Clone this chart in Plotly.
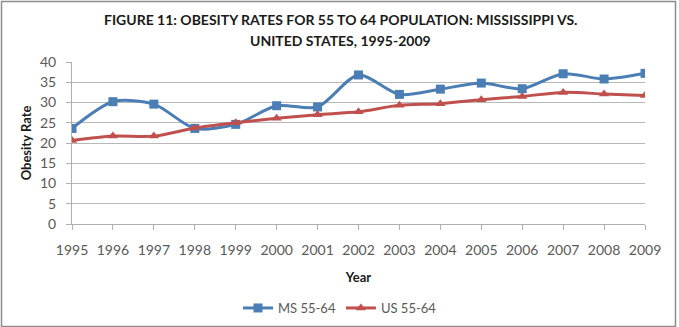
import plotly.graph_objects as go

# Obesity rates (%) for the 55-64 age group
years = [1995, 1996, 1997, 1998, 1999, 2000, 2001, 2002,
         2003, 2004, 2005, 2006, 2007, 2008, 2009]
ms_rates = [23.6, 30.2, 29.6, 23.6, 24.6, 29.2, 28.9, 36.8,
            32.0, 33.3, 34.8, 33.4, 37.1, 35.8, 37.2]
us_rates = [20.6, 21.7, 21.7, 23.7, 25.0, 26.1, 27.0, 27.7,
            29.3, 29.7, 30.7, 31.5, 32.5, 32.1, 31.7]
y_ticks = [0, 5, 10, 15, 20, 25, 30, 35, 40]
title_lines = ["FIGURE 11: OBESITY RATES FOR 55 TO 64 POPULATION: MISSISSIPPI VS.",
               "UNITED STATES, 1995-2009"]

FONT = "Century Gothic, Lato, sans-serif"
BLUE = "#4a7eb4"
RED = "#c0504d"
TEXT = "#595959"

W, H = 679, 327
ML, MR, MT, MB = 72, 34, 62, 103
PW, PH = W - ML - MR, H - MT - MB

fig = go.Figure()
fig.add_trace(go.Scatter(
    x=years, y=ms_rates, name="MS 55-64", mode="lines+markers",
    line=dict(color=BLUE, width=3, shape="spline", smoothing=0.8),
    marker=dict(symbol="square", size=9, color=BLUE),
))
fig.add_trace(go.Scatter(
    x=years, y=us_rates, name="US 55-64", mode="lines+markers",
    line=dict(color=RED, width=3, shape="spline", smoothing=0.8),
    marker=dict(symbol="triangle-up", size=9, color=RED),
))


def px_x(p):
    return (p - ML) / PW


def px_y(p):
    return (H - MB - p) / PH


# two-line bold heading, centred on the whole figure
annotations = [
    dict(text=f"<b>{line}</b>", xref="paper", yref="paper",
         x=px_x(340), y=px_y(cy), xanchor="center", yanchor="middle",
         showarrow=False, font=dict(family=FONT, size=14, color="#1a1a1a"))
    for line, cy in zip(title_lines, [20, 40])
]

fig.update_layout(
    width=W, height=H,
    margin=dict(l=ML, r=MR, t=MT, b=MB, autoexpand=False),
    paper_bgcolor="white", plot_bgcolor="white",
    font=dict(family=FONT, color=TEXT),
    annotations=annotations,
    xaxis=dict(
        range=[1995, 2009], tickmode="array", tickvals=years,
        ticktext=[str(y) for y in years],
        showgrid=False, showline=True, linecolor="#b0b0b0", linewidth=1,
        ticks="outside", ticklen=5, tickcolor="#b0b0b0",
        ticklabelstandoff=8,
        tickfont=dict(size=14, color=TEXT),
        title=dict(text="<b>Year</b>", font=dict(size=13, color="#1a1a1a"), standoff=16),
        zeroline=False, automargin=False,
    ),
    yaxis=dict(
        range=[0, 40], tickvals=y_ticks,
        showgrid=True, gridcolor="#b8b8b8", gridwidth=1,
        showline=True, linecolor="#b0b0b0", linewidth=1,
        ticks="outside", ticklen=5, tickcolor="#b0b0b0",
        ticklabelstandoff=7,
        tickfont=dict(size=14, color=TEXT),
        title=dict(text="<b>Obesity Rate</b>", font=dict(size=13, color="#1a1a1a"), standoff=5),
        zeroline=False, automargin=False,
    ),
    legend=dict(
        orientation="h", x=340 / W, xanchor="center", xref="container",
        y=1 - 308 / H, yanchor="middle", yref="container",
        font=dict(size=13, color=TEXT),
        itemwidth=30,
    ),
    shapes=[dict(
        type="rect", xref="paper", yref="paper",
        x0=px_x(1.5), x1=px_x(675.5), y0=px_y(326.5), y1=px_y(1.5),
        line=dict(color="#8c8c8c", width=1.5), layer="below",
    )],
)

fig.write_html("out.html")
